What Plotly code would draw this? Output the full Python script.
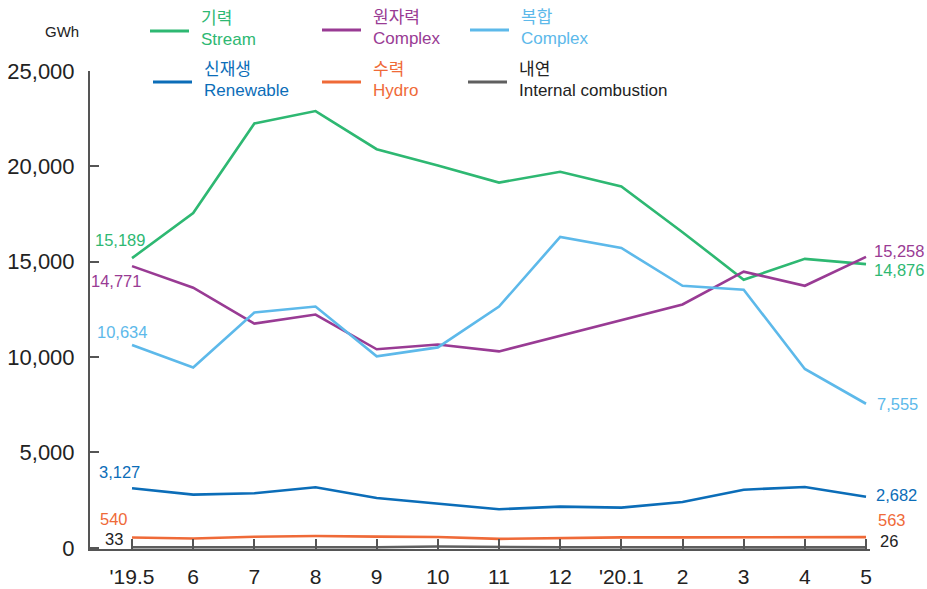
import plotly.graph_objects as go

months = ["'19.5", "6", "7", "8", "9", "10", "11", "12", "'20.1", "2", "3", "4", "5"]
names_ko = ["기력", "원자력", "복합", "신재생", "수력", "내연"]
names_en = ["Stream", "Complex", "Complex", "Renewable", "Hydro", "Internal combustion"]

stream = [15189, 17550, 22250, 22900, 20900, 20050, 19150, 19720, 18950, 16550, 14060, 15150, 14876]
nuclear = [14771, 13640, 11760, 12230, 10410, 10660, 10300, 11130, 11920, 12760, 14480, 13740, 15258]
combined = [10634, 9460, 12340, 12650, 10040, 10510, 12650, 16300, 15720, 13740, 13530, 9380, 7555]
renewable = [3127, 2790, 2860, 3175, 2615, 2320, 2025, 2160, 2110, 2405, 3050, 3190, 2682]
hydro = [540, 490, 580, 620, 590, 570, 470, 520, 550, 550, 550, 530, 563]
internal = [33, 30, 30, 30, 30, 70, 40, 30, 30, 30, 30, 28, 26]

series = [stream, nuclear, combined, renewable, hydro, internal]
colors = ["#2eb872", "#993b94", "#5db9ea", "#0b6db8", "#ef6a38", "#5f5f5f"]
text_colors = ["#2eb872", "#993b94", "#5db9ea", "#0b6db8", "#ef6a38", "#222222"]

# label offsets (px): start (xshift, yshift), end (xshift, yshift)
start_off = [(15, 18), (11, -15), (17, 13), (10, 16), (-2, 19), (-7, 8)]
end_off = [(6, -6), (6, 6), (9, 0), (8, 2), (10, 17), (12, 6)]

FONT = "Liberation Sans, Arial, Noto Sans CJK KR, sans-serif"
x = list(range(len(months)))

fig = go.Figure()
for s, c in zip(series, colors):
    fig.add_trace(go.Scatter(x=x, y=s, mode="lines", line=dict(color=c, width=2.6),
                             showlegend=False, hoverinfo="skip"))

def fmt(v):
    return f"{v:,}"

ann = []
for i, (s, c) in enumerate(zip(series, text_colors)):
    ann.append(dict(x=x[0], y=s[0], xref="x", yref="y", text=fmt(s[0]), showarrow=False,
                    xanchor="right", yanchor="middle", xshift=start_off[i][0], yshift=start_off[i][1],
                    font=dict(size=16.5, color=c, family=FONT)))
    ann.append(dict(x=x[-1], y=s[-1], xref="x", yref="y", text=fmt(s[-1]), showarrow=False,
                    xanchor="left", yanchor="middle", xshift=end_off[i][0], yshift=end_off[i][1],
                    font=dict(size=16.5, color=c, family=FONT)))

# plot area in pixels
L, R, T, B = 90, 870, 71, 549
def px(xp):
    return (xp - L) / (R - L)
def py(yp):
    return (B - yp) / (B - T)

shapes = []
leg_pos = [(150, 31), (322, 30), (470, 30), (153, 82), (322, 82), (468, 82)]
for i, ((lx, ly), c, tc) in enumerate(zip(leg_pos, colors, text_colors)):
    shapes.append(dict(type="line", xref="paper", yref="paper", x0=px(lx), x1=px(lx + 39),
                       y0=py(ly), y1=py(ly), line=dict(color=c, width=3)))
    tx = lx + 49
    ann.append(dict(xref="paper", yref="paper", x=px(tx), y=py(ly - 13), text=names_ko[i],
                    showarrow=False, xanchor="left", yanchor="middle",
                    font=dict(size=17, color=tc, family=FONT)))
    ann.append(dict(xref="paper", yref="paper", x=px(tx), y=py(ly + 8), text=names_en[i],
                    showarrow=False, xanchor="left", yanchor="middle",
                    font=dict(size=17, color=tc, family=FONT)))

ann.append(dict(xref="paper", yref="paper", x=px(62), y=py(31), text="GWh", showarrow=False,
                xanchor="center", yanchor="middle", font=dict(size=15, color="#222", family=FONT)))

fig.update_layout(
    width=927, height=589,
    margin=dict(l=L, r=927 - R, t=T, b=589 - B, autoexpand=False),
    paper_bgcolor="white", plot_bgcolor="white",
    font=dict(family=FONT, color="#222"),
    annotations=ann, shapes=shapes,
    xaxis=dict(range=[-0.687, 12.065], tickvals=x, ticktext=months, showgrid=False, zeroline=False,
               showline=True, linecolor="#555", linewidth=2, ticks="inside", ticklen=10,
               tickcolor="#555", tickwidth=2, tickfont=dict(size=21, color="#222"),
               ticklabelstandoff=8, automargin=False),
    yaxis=dict(range=[-60, 25000], tickvals=[0, 5000, 10000, 15000, 20000, 25000],
               ticktext=["0", "5,000", "10,000", "15,000", "20,000", "25,000"],
               showgrid=False, zeroline=False, showline=True, linecolor="#555", linewidth=2,
               ticks="inside", ticklen=9, tickcolor="#555", tickwidth=2,
               tickfont=dict(size=22, color="#222"), ticklabelstandoff=9, automargin=False),
)

fig.write_html("out.html", config={"displayModeBar": False},
               post_script="document.body.style.margin='0';document.body.style.overflow='hidden';")
